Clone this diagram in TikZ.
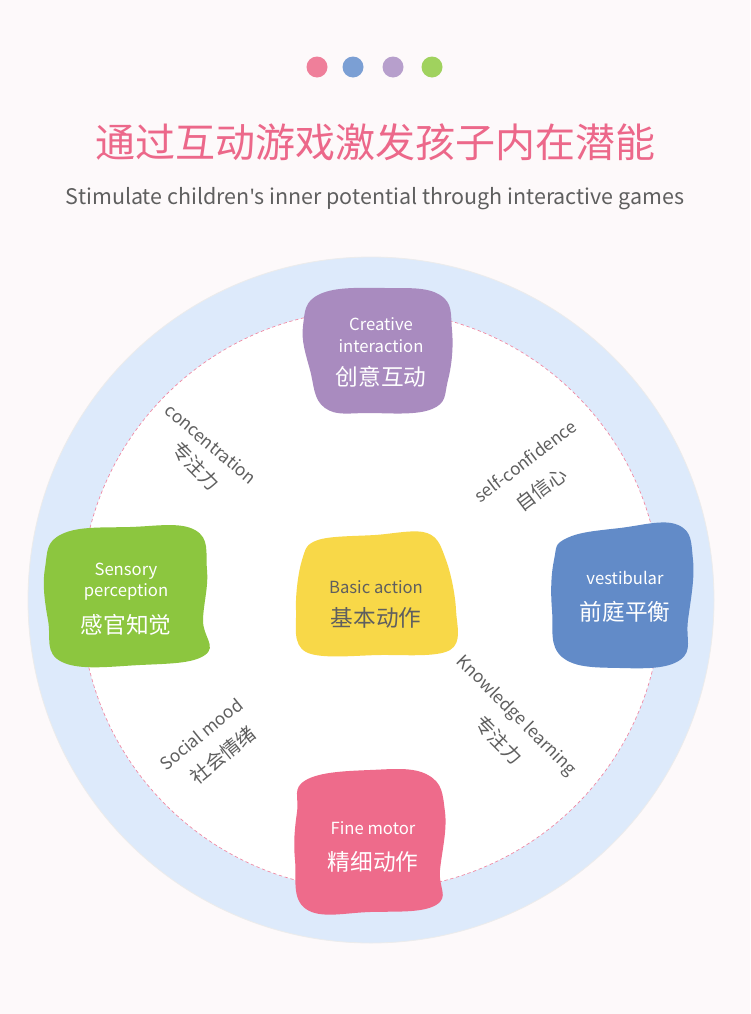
\documentclass[tikz,border=0pt]{standalone}
\usepackage{fontspec}
\setmainfont{Noto Sans CJK SC}
\newfontfamily\quotefont{Noto Sans}
\usepackage{tikz}
\usetikzlibrary{positioning}
\definecolor{bgpink}{RGB}{253,249,250}
\definecolor{ringblue}{RGB}{221,234,251}
\definecolor{titlepink}{RGB}{236,104,138}
\definecolor{textgray}{RGB}{95,95,95}
\definecolor{dotpink}{RGB}{239,127,154}
\definecolor{dotblue}{RGB}{123,159,212}
\definecolor{dotpurple}{RGB}{183,159,204}
\definecolor{dotgreen}{RGB}{160,210,94}
\definecolor{blobpurple}{RGB}{169,139,191}
\definecolor{blobgreen}{RGB}{140,198,63}
\definecolor{blobblue}{RGB}{98,139,200}
\definecolor{blobpink}{RGB}{238,107,139}
\definecolor{blobyellow}{RGB}{248,216,72}

\begin{document}
\begin{tikzpicture}[x=0.75pt, y=-0.75pt, every node/.style={align=center, inner sep=0pt},
    blobtext/.style={text=white, font=\fontsize{12.5}{16}\selectfont},
    blobcn/.style={text=white, font=\fontsize{17}{20}\selectfont},
    sidetext/.style={text=textgray, font=\fontsize{13}{15}\selectfont},
    sidecn/.style={text=textgray, font=\fontsize{14.5}{16}\selectfont}]
    \fill[bgpink] (0,0) rectangle (750,1014);
    \useasboundingbox (0,0) rectangle (750,1014);

    % dots and headings
    \fill[dotpink] (317,67) circle (10.5);
    \fill[dotblue] (353,67) circle (10.5);
    \fill[dotpurple] (393,67) circle (10.5);
    \fill[dotgreen] (432,67) circle (10.5);
    \node[text=titlepink, font=\fontsize{30}{36}\selectfont] (title) at (375,142) {通过互动游戏激发孩子内在潜能};
    \node[text=textgray, font=\fontsize{16.1}{20}\selectfont, below=20pt of title] (subtitle) {Stimulate children{\quotefont\char39}s inner potential through interactive games};

    % rings
    \fill[ringblue] (371,600) circle (343);
    \draw[white!85!gray, line width=0.6pt] (371,600) circle (343);
    \fill[white] (371,600) circle (290);
    \draw[titlepink!80, dash pattern=on 2.5pt off 2pt, line width=0.5pt] (371,600) circle (290);

    % blobs
    \fill[blobpurple] plot[smooth cycle, tension=0.7] coordinates {(320,294) (385,288) (440,295) (452,330) (448,380) (432,409) (370,413) (325,408) (310,370) (303,326)};
    \fill[blobgreen] plot[smooth cycle, tension=0.7] coordinates {(62,534) (130,527) (195,530) (207,570) (203,620) (205,655) (140,665) (62,662) (48,620) (45,568)};
    \fill[blobblue] plot[smooth cycle, tension=0.7] coordinates {(567,538) (620,528) (678,525) (693,560) (688,620) (680,660) (620,668) (562,657) (552,610) (554,560)};
    \fill[blobpink] plot[smooth cycle, tension=0.7] coordinates {(306,780) (370,770) (428,775) (445,812) (440,870) (436,905) (370,912) (306,909) (295,860) (297,812)};
    \fill[blobyellow] plot[smooth cycle, tension=0.6] coordinates {(318,540) (375,535) (427,533) (446,560) (456,610) (450,650) (380,655) (306,652) (296,610) (302,560)};

    % blob labels
    \node[blobtext] (creative) at (381,335) {Creative\\interaction};
    \node[blobcn, below=10pt of creative] (creativecn) {创意互动};
    \node[blobtext] (sensory) at (126,582) {Sensory\\perception};
    \node[blobcn, below=10pt of sensory] (sensorycn) {感官知觉};
    \node[blobtext] (vestib) at (625,578) {vestibular};
    \node[blobcn, below=12pt of vestib] (vestibcn) {前庭平衡};
    \node[blobtext] (finemotor) at (373,828) {Fine motor};
    \node[blobcn, below=12pt of finemotor] (finemotorcn) {精细动作};
    \node[blobtext, text=textgray] (basic) at (376,587) {Basic action};
    \node[blobcn, text=textgray, below=10pt of basic] (basiccn) {基本动作};

    % side labels
    \node[sidetext, rotate=-40] (concen) at (211,444) {concentration};
    \node[sidecn, rotate=-45] (concencn) at (196,466) {专注力};
    \node[sidetext, rotate=37] (selfconf) at (525,461) {self-confidence};
    \node[sidecn, rotate=37] (selfconfcn) at (541,489) {自信心};
    \node[sidetext, rotate=39] (social) at (201,734) {Social mood};
    \node[sidecn, rotate=39] (socialcn) at (223,755) {社会情绪};
    \node[sidetext, rotate=-45] (knowledge) at (516,716) {Knowledge learning};
    \node[sidecn, rotate=-45] (knowledgecn) at (499,740) {专注力};
\end{tikzpicture}
\end{document}
